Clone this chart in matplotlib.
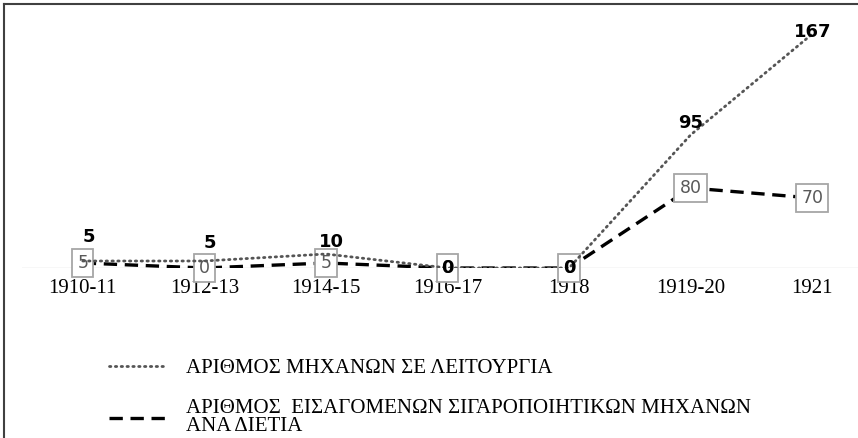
import matplotlib
matplotlib.use("Agg")
import matplotlib.pyplot as plt
from matplotlib.lines import Line2D

categories = ["1910-11", "1912-13", "1914-15", "1916-17", "1918", "1919-20", "1921"]
in_operation = [5, 5, 10, 0, 0, 95, 167]
imported = [5, 0, 5, 0, 0, 80, 70]

label_op = "ΑΡΙΘΜΟΣ ΜΗΧΑΝΩΝ ΣΕ ΛΕΙΤΟΥΡΓΙΑ"
label_imp = "ΑΡΙΘΜΟΣ  ΕΙΣΑΓΟΜΕΝΩΝ ΣΙΓΑΡΟΠΟΙΗΤΙΚΩΝ ΜΗΧΑΝΩΝ\nΑΝΑ ΔΙΕΤΙΑ"

W, H = 858, 438
PX = 72 / 100  # points per pixel
fig = plt.figure(figsize=(W / 100, H / 100), dpi=100)
fig.patch.set_facecolor("white")

left_px, right_px = 22, 873
base_px, top_px = 268, 20
ax = fig.add_axes([left_px / W, (H - base_px) / H, (right_px - left_px) / W, (base_px - top_px) / H])
ax2 = ax.twinx()

x = list(range(len(categories)))
ax.set_xlim(-0.5, len(categories) - 0.5)
ax.set_ylim(0, 248)
ax2.set_ylim(0, 177)

for a in (ax, ax2):
    for s in a.spines.values():
        s.set_visible(False)
    a.set_yticks([])
    a.patch.set_visible(False)

ax.axhline(0, color="#d9d9d9", lw=1, zorder=1)

dash_style = (0, (4.0, 2.3))
dot_style = (0, (0.5, 1.6))
ax.plot(x, imported, color="black", lw=2.4, linestyle=dash_style, zorder=3)
ax2.plot(x, in_operation, color="#555555", lw=2.0, linestyle=dot_style,
         dash_capstyle="round", zorder=3)

ax.set_xticks(x)
ax.set_xticklabels(categories, fontfamily="Liberation Serif", fontsize=15)
ax.tick_params(axis="x", length=0, pad=8)

# import labels (boxed)
for xi, v in zip(x, imported):
    ax.text(xi, v, str(v), ha="center", va="center", fontsize=12.5,
            fontfamily="DejaVu Sans", color="#595959", zorder=5,
            bbox=dict(boxstyle="square,pad=0.3", fc="white", ec="#a6a6a6", lw=1.3))

# operation labels (bold); offsets in pixels
offsets_px = [(6, 24), (6, 18), (6, 12), (0, 0), (0, 0), (0, 12), (0, 2)]
for xi, v in zip(x, in_operation):
    dx, dy = offsets_px[xi]
    ax2.annotate(str(v), (xi, v), xytext=(dx * PX, dy * PX), textcoords="offset points",
                 ha="center", va="center",
                 fontsize=13, fontweight="bold", fontfamily="DejaVu Sans",
                 color="black", zorder=6)

handles = [
    Line2D([], [], color="#555555", lw=2.0, linestyle=dot_style, dash_capstyle="round"),
    Line2D([], [], color="black", lw=2.4, linestyle=dash_style),
]
leg = fig.legend(handles, [label_op, label_imp], loc="upper left",
                 bbox_to_anchor=(90 / W, 1 - 340 / H), frameon=False,
                 prop={"family": "Liberation Serif", "size": 15},
                 handlelength=2.7, handletextpad=1.0, labelspacing=1.0)
for t in leg.get_texts():
    t.set_linespacing(0.95)

# partial frame (top and left)
fig.add_artist(Line2D([4 / W, 4 / W], [0, 1 - 4 / H], transform=fig.transFigure, color="#404040", lw=1.5))
fig.add_artist(Line2D([4 / W, 1], [1 - 4 / H, 1 - 4 / H], transform=fig.transFigure, color="#404040", lw=1.5))

fig.savefig("out.png", dpi=100)
